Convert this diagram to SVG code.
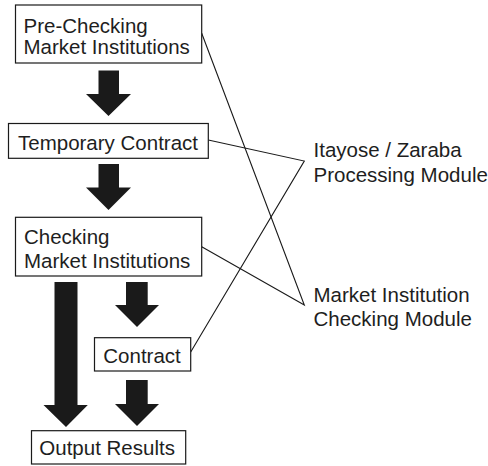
<svg xmlns="http://www.w3.org/2000/svg" width="488" height="466" viewBox="0 0 488 466">
  <style>
    .box { fill: #ffffff; stroke: #1a1a1a; stroke-width: 1.2; }
    .lbl { font-family: "Liberation Sans", Arial, sans-serif; font-size: 20.5px; fill: #1e1e1e; }
    .link { fill: none; stroke: #1a1a1a; stroke-width: 1.1; }
    .arrow { fill: #1a1a1a; stroke: none; }
  </style>
  <rect width="488" height="466" fill="#ffffff"/>

  <!-- block arrows -->
  <g id="flow-arrows">
    <polygon class="arrow" points="98.5,70.5 119,70.5 119,94 131,94 108.5,116 86,94 98.5,94"/>
    <polygon class="arrow" points="98.5,164 119,164 119,187.5 131,187.5 108.5,210 86,187.5 98.5,187.5"/>
    <polygon class="arrow" points="54.5,282 77.5,282 77.5,405 87.8,405 66,427 43.5,405 54.5,405"/>
    <polygon class="arrow" points="126,282 147.7,282 147.7,305 159,305 137,327 115,305 126,305"/>
    <polygon class="arrow" points="126,380 147.7,380 147.7,404 159,404 137,426 115,404 126,404"/>
  </g>

  <!-- module links -->
  <g id="connectors">
    <polyline class="link" points="208.3,140 304.3,161 190.7,352"/>
    <polyline class="link" points="201.7,33.3 304.3,305 201.7,246.7"/>
  </g>

  <g id="pre-checking">
    <rect class="box" x="15.5" y="5" width="186.2" height="58"/>
    <text class="lbl" x="23.5" y="32.5">Pre-Checking</text>
    <text class="lbl" x="23.5" y="54.3">Market Institutions</text>
  </g>

  <g id="temporary-contract">
    <rect class="box" x="8.5" y="123.5" width="199.8" height="34.8"/>
    <text class="lbl" x="18" y="150">Temporary Contract</text>
  </g>

  <g id="checking">
    <rect class="box" x="15.5" y="217.3" width="186.2" height="58.7"/>
    <text class="lbl" x="24" y="244">Checking</text>
    <text class="lbl" x="24" y="268.3">Market Institutions</text>
  </g>

  <g id="contract">
    <rect class="box" x="94.5" y="337.7" width="96.2" height="33.3"/>
    <text class="lbl" x="103.3" y="362.7">Contract</text>
  </g>

  <g id="output-results">
    <rect class="box" x="31.5" y="430.7" width="154.2" height="33.3"/>
    <text class="lbl" x="39.3" y="455">Output Results</text>
  </g>

  <g id="itayose-module">
    <text class="lbl" x="313.5" y="157.3">Itayose / Zaraba</text>
    <text class="lbl" x="313.5" y="181.7">Processing Module</text>
  </g>

  <g id="checking-module">
    <text class="lbl" x="313.5" y="302.3">Market Institution</text>
    <text class="lbl" x="313.5" y="326">Checking Module</text>
  </g>
</svg>
